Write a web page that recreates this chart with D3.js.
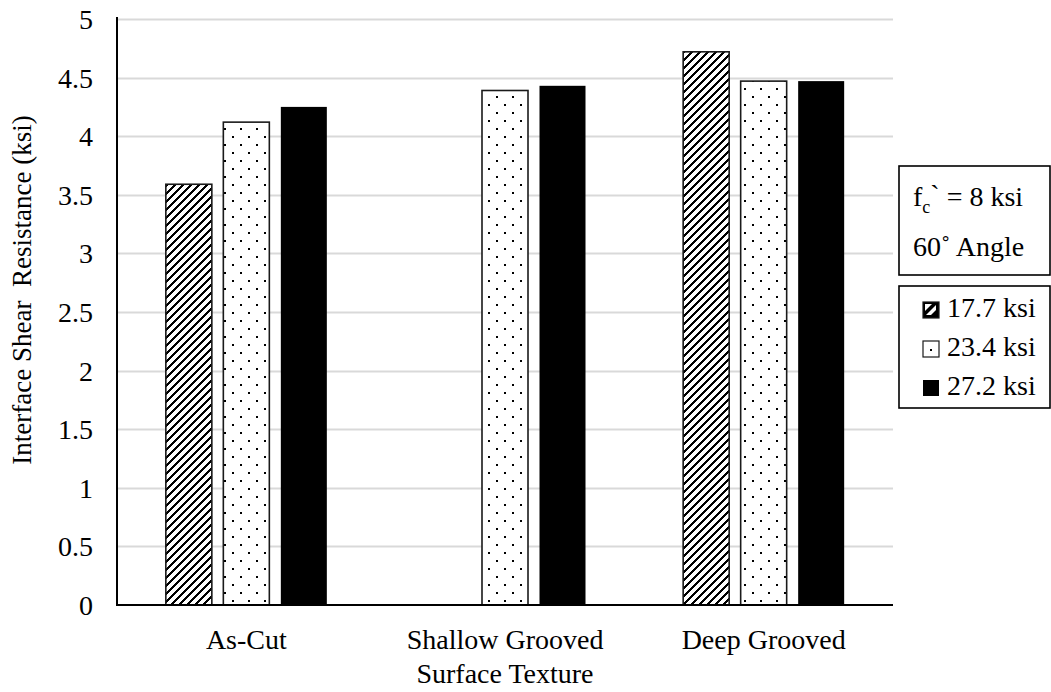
<!DOCTYPE html>
<html>
<head>
<meta charset="utf-8">
<script src="https://cdn.jsdelivr.net/npm/d3@7"></script>
<style>
  html, body { margin: 0; padding: 0; background: #fff; }
  svg { display: block; }
  svg text { font-family: "Liberation Serif", "Times New Roman", serif !important; fill: #000; }
</style>
</head>
<body>
<svg id="chart" width="1051" height="692"></svg>
<script>
// ---- data ----
const categories = ["As-Cut", "Shallow Grooved", "Deep Grooved"];
const seriesNames = ["17.7 ksi", "23.4 ksi", "27.2 ksi"];
const values177 = [3.59, null, 4.72];
const values234 = [4.12, 4.39, 4.47];
const values272 = [4.25, 4.43, 4.47];
const yTicks = [0, 0.5, 1, 1.5, 2, 2.5, 3, 3.5, 4, 4.5, 5];
const yTickLabels = ["0", "0.5", "1", "1.5", "2", "2.5", "3", "3.5", "4", "4.5", "5"];
const yTitle = "Interface Shear  Resistance (ksi)";
const xTitle = "Surface Texture";

const seriesValues = [values177, values234, values272];
const fills = ["url(#hatch)", "url(#dots)", "#000"];
const legendFills = ["url(#hatchSmall)", "url(#dotSmall)", "#000"];

const svg = d3.select("#chart");
const W = 1051, H = 692;
const plot = { left: 117, right: 893, top: 19, bottom: 605 };
const FS = 28;

svg.append("rect").attr("width", W).attr("height", H).attr("fill", "#fff");

// ---- patterns ----
const defs = svg.append("defs");
const hatch = defs.append("pattern").attr("id", "hatch")
  .attr("patternUnits", "userSpaceOnUse").attr("width", 8).attr("height", 8);
hatch.append("rect").attr("width", 8).attr("height", 8).attr("fill", "#fff");
hatch.append("path").attr("d", "M-2,2 L2,-2 M0,8 L8,0 M6,10 L10,6")
  .attr("stroke", "#000").attr("stroke-width", 2.6).attr("shape-rendering", "crispEdges");

const dots = defs.append("pattern").attr("id", "dots")
  .attr("patternUnits", "userSpaceOnUse").attr("width", 16).attr("height", 16);
dots.append("rect").attr("width", 16).attr("height", 16).attr("fill", "#fff");
dots.append("rect").attr("x", 0).attr("y", 0).attr("width", 2).attr("height", 2).attr("fill", "#000");
dots.append("rect").attr("x", 8).attr("y", 8).attr("width", 2).attr("height", 2).attr("fill", "#000");

const hatchS = defs.append("pattern").attr("id", "hatchSmall")
  .attr("patternUnits", "objectBoundingBox").attr("width", 1).attr("height", 1);
hatchS.append("rect").attr("width", 16).attr("height", 16).attr("fill", "#000");
hatchS.append("path").attr("d", "M3,13 L13,3 L13,8 L8,13 Z").attr("fill", "#fff");
hatchS.append("path").attr("d", "M2,2 L9,2 L2,9 Z").attr("fill", "#fff");

const dotS = defs.append("pattern").attr("id", "dotSmall")
  .attr("patternUnits", "objectBoundingBox").attr("width", 1).attr("height", 1);
dotS.append("rect").attr("width", 16).attr("height", 16).attr("fill", "#fff");
dotS.append("rect").attr("x", 7).attr("y", 8).attr("width", 2).attr("height", 2).attr("fill", "#000");

// ---- scales ----
const y = d3.scaleLinear().domain([0, 5]).range([plot.bottom, plot.top]);
const x0 = d3.scaleBand().domain(categories).range([plot.left, plot.right]).padding(0);
const groupW = 172.5;
const x1 = d3.scaleBand().domain(seriesNames).range([0, groupW]).paddingInner(0.2).paddingOuter(0.1);

// ---- gridlines ----
svg.append("g").selectAll("line").data(yTicks.filter(d => d > 0)).join("line")
  .attr("x1", plot.left).attr("x2", plot.right)
  .attr("y1", d => Math.round(y(d)) + 0.5).attr("y2", d => Math.round(y(d)) + 0.5)
  .attr("stroke", "#d9d9d9").attr("stroke-width", 2);

// ---- bars ----
const rows = [];
categories.forEach((c, i) => {
  seriesNames.forEach((s, j) => {
    const v = seriesValues[j][i];
    if (v != null) rows.push({ c, s, v, j });
  });
});
svg.append("g").selectAll("rect").data(rows).join("rect")
  .attr("x", d => x0(d.c) + x0.bandwidth() / 2 - groupW / 2 + x1(d.s))
  .attr("y", d => y(d.v))
  .attr("width", x1.bandwidth())
  .attr("height", d => y(0) - y(d.v))
  .attr("fill", d => fills[d.j])
  .attr("stroke", d => d.j === 2 ? "none" : "#1a1a1a")
  .attr("stroke-width", 1.6);

// ---- axes ----
const yAxis = d3.axisLeft(y).tickValues(yTicks).tickFormat((d, i) => yTickLabels[i]).tickSize(0).tickPadding(24);
const gy = svg.append("g").attr("transform", `translate(${plot.left},0)`).call(yAxis);
gy.select(".domain").remove();
gy.selectAll("text").attr("font-size", FS).attr("dy", "0.34em");

const xAxis = d3.axisBottom(x0).tickSize(0).tickPadding(24);
const gx = svg.append("g").attr("transform", `translate(0,${plot.bottom})`).call(xAxis);
gx.select(".domain").remove();
gx.selectAll("text").attr("font-size", FS);

svg.append("line").attr("x1", plot.left).attr("x2", plot.left)
  .attr("y1", 17).attr("y2", plot.bottom + 1).attr("stroke", "#000").attr("stroke-width", 2);
svg.append("line").attr("x1", plot.left - 1).attr("x2", plot.right)
  .attr("y1", plot.bottom).attr("y2", plot.bottom).attr("stroke", "#000").attr("stroke-width", 2);

// ---- titles ----
svg.append("text").attr("transform", `translate(31,${(plot.top + plot.bottom) / 2 - 22}) rotate(-90)`)
  .attr("text-anchor", "middle").attr("font-size", 27)
  .attr("xml:space", "preserve").style("white-space", "pre").text(yTitle);

svg.append("text").attr("x", (plot.left + plot.right) / 2).attr("y", 683)
  .attr("text-anchor", "middle").attr("font-size", FS).text(xTitle);

// ---- legend ----
svg.append("rect").attr("x", 899).attr("y", 166).attr("width", 151).attr("height", 109)
  .attr("fill", "#fff").attr("stroke", "#000").attr("stroke-width", 1.6);
const t1 = svg.append("text").attr("x", 913).attr("y", 206).attr("font-size", FS);
t1.append("tspan").text("f");
t1.append("tspan").attr("font-size", 18).attr("dy", 7).text("c");
t1.append("tspan").attr("dy", -9).text("`");
t1.append("tspan").attr("dy", 2).text(" = 8 ksi");
svg.append("text").attr("x", 913).attr("y", 256).attr("font-size", FS).text("60˚ Angle");

svg.append("rect").attr("x", 899).attr("y", 286).attr("width", 151).attr("height", 122)
  .attr("fill", "#fff").attr("stroke", "#000").attr("stroke-width", 1.6);
const lg = svg.append("g").selectAll("g").data(seriesNames).join("g")
  .attr("transform", (d, i) => `translate(923,${302 + i * 39})`);
lg.append("rect").attr("width", 16).attr("height", 16)
  .attr("fill", (d, i) => legendFills[i])
  .attr("stroke", (d, i) => i === 2 ? "none" : "#1a1a1a").attr("stroke-width", 1.2);
lg.append("text").attr("x", 24).attr("y", 15).attr("font-size", FS).text(d => d);
</script>
</body>
</html>
